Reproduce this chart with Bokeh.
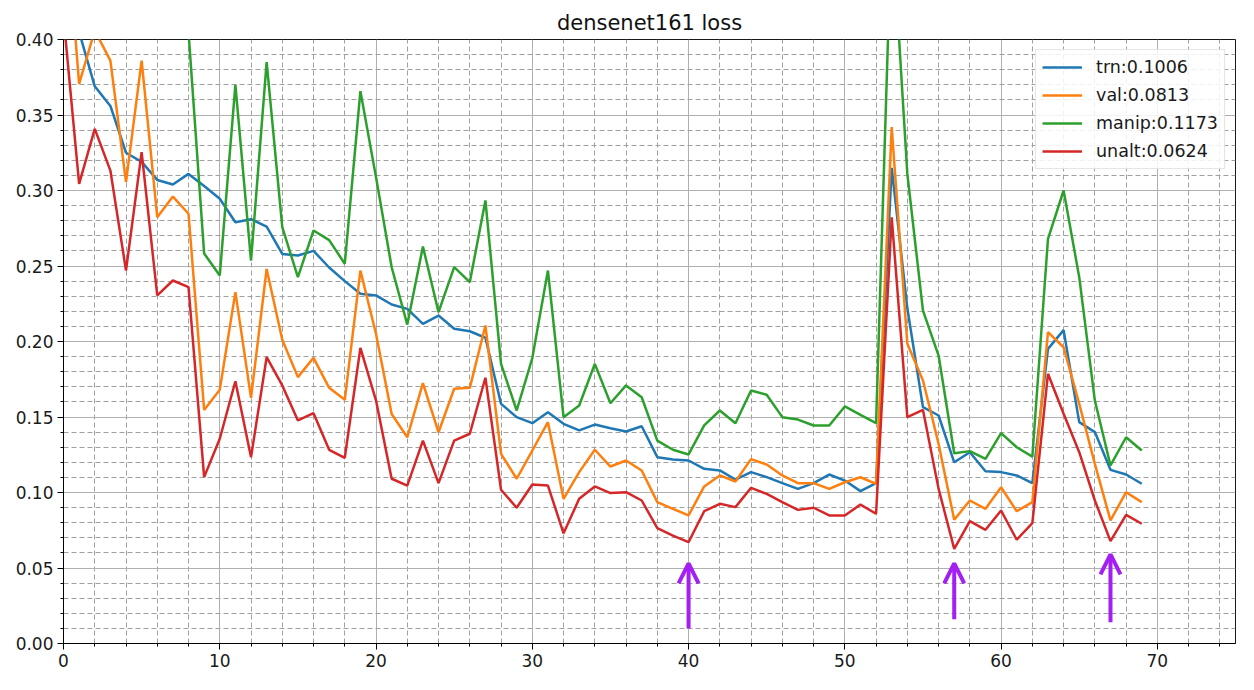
from bokeh.plotting import figure
from bokeh.models import (FixedTicker, Range1d, ColumnDataSource, Arrow, OpenHead,
                          PrintfTickFormatter)
from bokeh.embed import file_html
from bokeh.resources import INLINE

# ---------------- data ----------------
epochs = list(range(70))

trn = [0.460, 0.405, 0.369, 0.356, 0.325, 0.319, 0.307, 0.304, 0.311, 0.303,
       0.2945, 0.279, 0.281, 0.276, 0.258, 0.257, 0.260, 0.249, 0.240, 0.2316,
       0.2305, 0.2245, 0.2216, 0.2117, 0.2172, 0.2084, 0.2068, 0.2025, 0.1587, 0.1499,
       0.1459, 0.1532, 0.1455, 0.1411, 0.1450, 0.1426, 0.1404, 0.1439, 0.1234, 0.1219,
       0.1212, 0.1157, 0.1146, 0.1086, 0.1135, 0.1102, 0.1062, 0.1024, 0.1062, 0.1119,
       0.1079, 0.1009, 0.1062, 0.315, 0.222, 0.1565, 0.151, 0.120, 0.1267, 0.1141,
       0.1135, 0.1113, 0.1062, 0.1951, 0.2075, 0.1466, 0.140, 0.115, 0.1119, 0.1058]

val = [0.500, 0.3706, 0.406, 0.386, 0.3055, 0.386, 0.2823, 0.296, 0.2846, 0.1547,
       0.168, 0.2327, 0.1627, 0.248, 0.2011, 0.1764, 0.1892, 0.1693, 0.1614, 0.247,
       0.205, 0.152, 0.1366, 0.1724, 0.1399, 0.1687, 0.1693, 0.2106, 0.1256, 0.1091,
       0.1278, 0.1466, 0.0958, 0.1135, 0.1283, 0.1172, 0.1212, 0.1146, 0.0936, 0.0892,
       0.0848, 0.104, 0.1113, 0.1073, 0.1221, 0.1185, 0.1113, 0.1062, 0.1062, 0.1024,
       0.1068, 0.1101, 0.1057, 0.342, 0.1985, 0.1742, 0.1322, 0.0819, 0.0947, 0.0892,
       0.1035, 0.0876, 0.0936, 0.2062, 0.1962, 0.1587, 0.119, 0.0815, 0.1002, 0.0936]

manip = [0.62, 0.60, 0.57, 0.55, 0.53, 0.52, 0.50, 0.48, 0.405, 0.2583,
         0.2437, 0.370, 0.2536, 0.385, 0.2757, 0.2426, 0.2735, 0.2671, 0.2515, 0.3658,
         0.3088, 0.2492, 0.2112, 0.2629, 0.2194, 0.2492, 0.2393, 0.2934, 0.1852, 0.1543,
         0.189, 0.247, 0.1499, 0.1576, 0.1852, 0.1591, 0.1709, 0.1631, 0.1344, 0.1283,
         0.1252, 0.1444, 0.1543, 0.1459, 0.1675, 0.1647, 0.1499, 0.1483, 0.1444, 0.1444,
         0.157, 0.1514, 0.1459, 0.48, 0.311, 0.2205, 0.1907, 0.126, 0.1274, 0.1223,
         0.1393, 0.130, 0.1238, 0.268, 0.300, 0.2426, 0.1609, 0.1179, 0.1366, 0.1278]

unalt = [0.415, 0.3044, 0.3408, 0.3132, 0.247, 0.3254, 0.2305, 0.2404, 0.236, 0.1102,
         0.1356, 0.1737, 0.1234, 0.1896, 0.1709, 0.1477, 0.1525, 0.1283, 0.123, 0.1958,
         0.1609, 0.1091, 0.1046, 0.1344, 0.1062, 0.1344, 0.1389, 0.176, 0.1018, 0.0899,
         0.1053, 0.1046, 0.073, 0.0958, 0.104, 0.0996, 0.1002, 0.0947, 0.0764, 0.0715,
         0.0671, 0.0876, 0.0925, 0.0903, 0.1031, 0.0991, 0.0936, 0.0885, 0.0899, 0.0848,
         0.0848, 0.092, 0.0859, 0.2823, 0.1499, 0.1547, 0.1024, 0.0627, 0.081, 0.0753,
         0.0881, 0.0687, 0.0797, 0.1786, 0.1521, 0.1267, 0.0947, 0.0678, 0.0852, 0.0793]

series_names = ["trn", "val", "manip", "unalt"]
legend_labels = ["trn:0.1006", "val:0.0813", "manip:0.1173", "unalt:0.0624"]
colors = ["#1f77b4", "#ff7f0e", "#2ca02c", "#d62728"]

x_major = [0, 10, 20, 30, 40, 50, 60, 70]
x_minor = [2, 4, 6, 8, 12, 14, 16, 18, 22, 24, 26, 28, 32, 34, 36, 38, 42, 44, 46, 48,
           52, 54, 56, 58, 62, 64, 66, 68, 72, 74]
y_major = [0.00, 0.05, 0.10, 0.15, 0.20, 0.25, 0.30, 0.35, 0.40]
y_minor = [0.01, 0.02, 0.03, 0.04, 0.06, 0.07, 0.08, 0.09, 0.11, 0.12, 0.13, 0.14,
           0.16, 0.17, 0.18, 0.19, 0.21, 0.22, 0.23, 0.24, 0.26, 0.27, 0.28, 0.29,
           0.31, 0.32, 0.33, 0.34, 0.36, 0.37, 0.38, 0.39]

# hand-drawn arrow annotations
arrow_x = [40, 57, 67]
arrow_tail = [0.010, 0.016, 0.014]
arrow_tip = [0.053, 0.053, 0.059]

# ---------------- figure ----------------
FONT = "DejaVu Sans"
p = figure(frame_width=1172, frame_height=604,
           min_border_left=63, min_border_right=8, min_border_top=39, min_border_bottom=35,
           x_range=Range1d(0, 75), y_range=Range1d(0, 0.40),
           output_backend="svg", toolbar_location=None, title="densenet161 loss")

p.title.align = "center"
p.title.text_font = FONT
p.title.text_font_size = "21px"
p.title.text_font_style = "normal"
p.title.text_color = "#111111"

p.outline_line_color = "black"
p.outline_line_width = 1
p.outline_line_alpha = 0.9
p.background_fill_color = "white"
p.border_fill_color = "white"

p.xaxis.ticker = FixedTicker(ticks=x_major, minor_ticks=x_minor)
p.yaxis.ticker = FixedTicker(ticks=y_major, minor_ticks=y_minor)
p.yaxis.formatter = PrintfTickFormatter(format="%.2f")

for ax in (p.xaxis, p.yaxis):
    ax.axis_line_color = "black"
    ax.major_tick_line_color = "black"
    ax.minor_tick_line_color = "black"
    ax.major_tick_in = 0
    ax.major_tick_out = 6
    ax.minor_tick_in = 0
    ax.minor_tick_out = 3
    ax.major_label_text_font = FONT
    ax.major_label_text_font_size = "17px"
    ax.major_label_text_color = "#1a1a1a"
    ax.major_label_standoff = 4

for g in (p.xgrid, p.ygrid):
    g.grid_line_color = "#b0b0b0"
    g.grid_line_width = 1
    g.minor_grid_line_color = "#a0a0a0"
    g.minor_grid_line_dash = "5 3"
    g.minor_grid_line_width = 1

src = ColumnDataSource(dict(epoch=epochs, trn=trn, val=val, manip=manip, unalt=unalt))
for name, lab, col in zip(series_names, legend_labels, colors):
    p.line(x="epoch", y=name, source=src, line_color=col, line_width=2.5, legend_label=lab)

asrc = ColumnDataSource(dict(x=arrow_x, y0=arrow_tail, y1=arrow_tip))
p.add_layout(Arrow(end=OpenHead(size=20, line_color="#a31ff2", line_width=4),
                   x_start="x", y_start="y0", x_end="x", y_end="y1", source=asrc,
                   line_color="#a31ff2", line_width=4))

lg = p.legend[0]
lg.location = "top_right"
lg.margin = 10
lg.padding = 6
lg.spacing = 6
lg.label_height = 22
lg.glyph_height = 22
lg.glyph_width = 40
lg.label_standoff = 14
lg.label_text_font = FONT
lg.label_text_font_size = "17.5px"
lg.label_text_color = "#1a1a1a"
lg.border_line_color = "#cccccc"
lg.border_line_width = 1
lg.background_fill_color = "white"
lg.background_fill_alpha = 0.85

open("out.html", "w").write(file_html(p, INLINE))
